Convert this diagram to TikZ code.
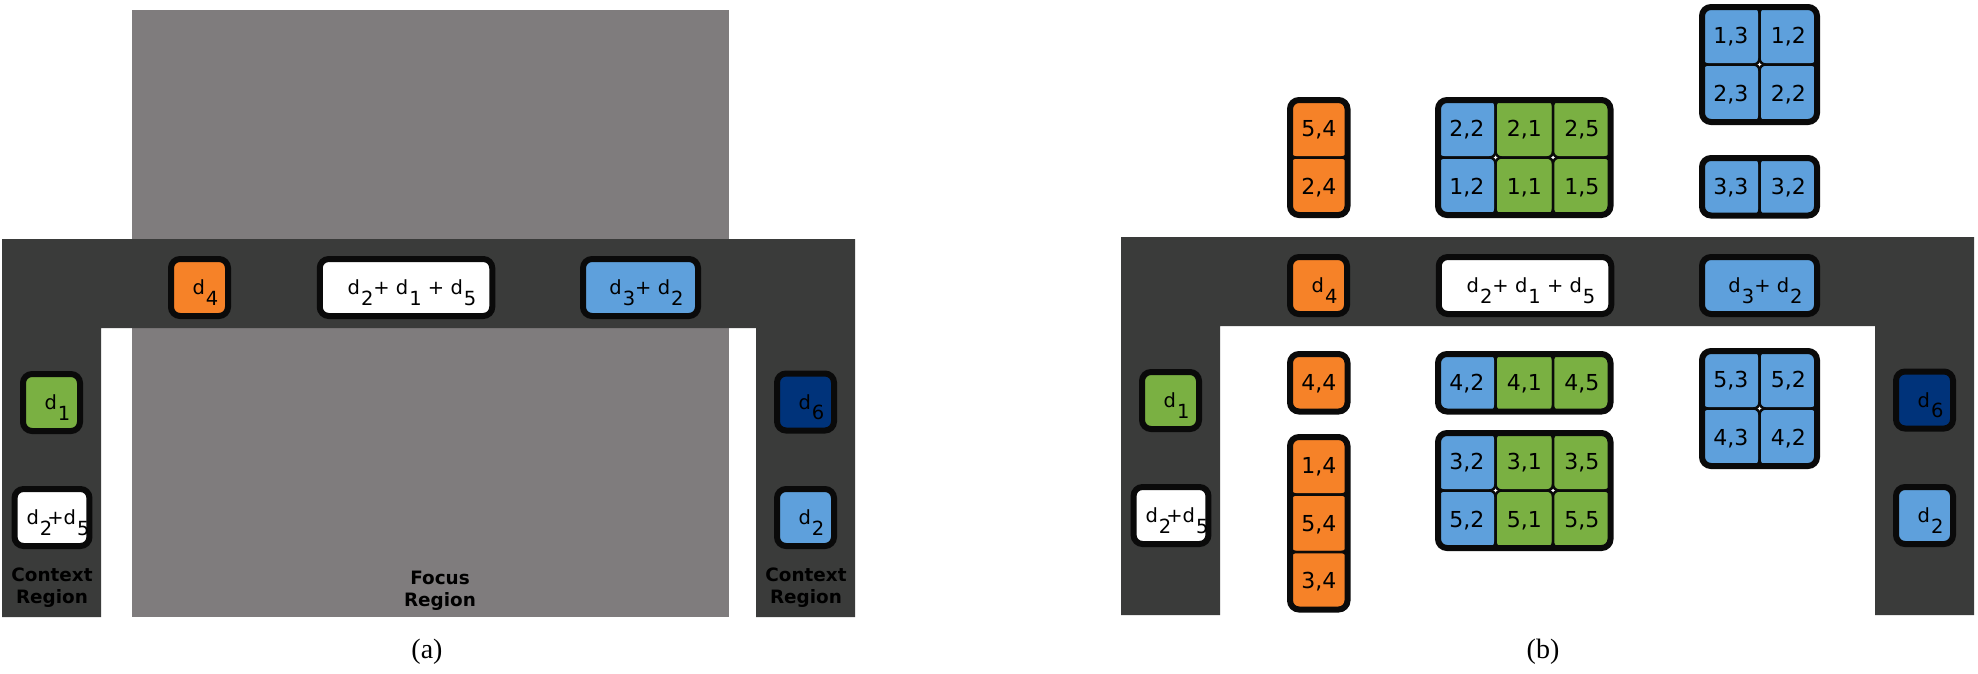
\documentclass[tikz,border=0pt]{standalone}
\usepackage{fontspec}
\setmainfont{Liberation Serif}
\newfontfamily\dejavu{DejaVu Sans}
\usepackage{tikz}

\definecolor{bandgray}{RGB}{58,59,58}
\definecolor{focusgray}{RGB}{127,124,125}
\definecolor{dorange}{RGB}{246,130,40}
\definecolor{dgreen}{RGB}{122,176,66}
\definecolor{dblue}{RGB}{94,160,220}
\definecolor{dnavy}{RGB}{0,51,122}
\definecolor{inkblack}{RGB}{10,10,10}

\newcommand{\labelfont}{\dejavu\fontsize{19.5}{22}\selectfont}
\newcommand{\cellfont}{\dejavu\fontsize{22}{24}\selectfont}
\newcommand{\regionfont}{\dejavu\bfseries\fontsize{18.4}{22}\selectfont}
\newcommand{\capfont}{\fontsize{28}{30}\selectfont}
\newcommand{\dvar}[1]{d\kern1pt\raisebox{-0.53em}{#1}}
\def\pitch{57.5}

\tikzset{
	box/.style     = {draw=inkblack, line width=6pt, rounded corners=9pt,
		minimum width=57pt, minimum height=57pt, inner sep=0pt,
		text height=14.8pt, text depth=0pt, font=\labelfont,
		execute at begin node={\hspace*{12pt}}},
	nonudge/.style = {execute at begin node={}},
	tile/.style    = {draw=inkblack, line width=2.5pt, rounded corners=6pt,
		minimum width=\pitch pt, minimum height=\pitch pt, inner sep=0pt,
		text height=16pt, text depth=0pt, font=\cellfont},
	frame/.style   = {draw=inkblack, line width=6pt, rounded corners=9pt, inner sep=0pt},
	region/.style  = {font=\regionfont, align=center, text=black},
	band/.style    = {fill=bandgray}
}

% grid of tiles: name, left, top, columns, rows, {col/row/first/second/colour}
\newcommand{\tilegrid}[6]{%
	\foreach \cx/\ry/\ta/\tb/\tf in {#6}
		\node[tile, fill=\tf] (#1-\cx-\ry) at ({#2+(\cx-0.5)*\pitch}, {#3+(\ry-0.5)*\pitch}) {\ta,\tb};
	\node[frame, minimum width=#4*\pitch, minimum height=#5*\pitch] (#1)
		at ({#2+#4*\pitch/2}, {#3+#5*\pitch/2}) {};
}

\begin{document}
\begin{tikzpicture}[x=1pt, y=-1pt]
\useasboundingbox (0,0) rectangle (1978,673);

% (a) focus region and context band
\fill[focusgray] (132,10) rectangle (729,617);
\fill[band] (2,239) -- (855,239) -- (855,617) -- (756,617) -- (756,328)
	-- (101,328) -- (101,617) -- (2,617) -- cycle;

\node[box, fill=dorange] (a-d4) at (199.5,287.5) {\dvar{4}};
\node[box, fill=white, minimum width=172.5pt] (a-sum) at (406,287.5) {\dvar{2}+ \dvar{1} + \dvar{5}};
\node[box, fill=dblue, minimum width=115pt] (a-d32) at (640.5,287.5) {\dvar{3}+ \dvar{2}};
\node[box, fill=dgreen] (a-d1) at (51.5,402.5) {\dvar{1}};
\node[box, nonudge, fill=white, minimum width=72pt] (a-d25) at (52,517.5) {\dvar{2}\kern-5pt+\dvar{5}};
\node[box, fill=dnavy] (a-d6) at (805.5,402) {\dvar{6}};
\node[box, fill=dblue] (a-d2) at (805.5,517.5) {\dvar{2}};

\node[region] (a-ctxl) at (52,588) {Context\\Region};
\node[region] (a-focus) at (440,591) {Focus\\Region};
\node[region] (a-ctxr) at (806,588) {Context\\Region};

\node[font=\capfont] (cap-a) at (427,652) {(a)};

% (b) same band, shifted
\begin{scope}[shift={(1119,-2)}]
\fill[band] (2,239) -- (855,239) -- (855,617) -- (756,617) -- (756,328)
	-- (101,328) -- (101,617) -- (2,617) -- cycle;

\node[box, fill=dorange] (b-d4) at (199.5,287.5) {\dvar{4}};
\node[box, fill=white, minimum width=172.5pt] (b-sum) at (406,287.5) {\dvar{2}+ \dvar{1} + \dvar{5}};
\node[box, fill=dblue, minimum width=115pt] (b-d32) at (640.5,287.5) {\dvar{3}+ \dvar{2}};
\node[box, fill=dgreen] (b-d1) at (51.5,402.5) {\dvar{1}};
\node[box, nonudge, fill=white, minimum width=72pt] (b-d25) at (52,517.5) {\dvar{2}\kern-5pt+\dvar{5}};
\node[box, fill=dnavy] (b-d6) at (805.5,402) {\dvar{6}};
\node[box, fill=dblue] (b-d2) at (805.5,517.5) {\dvar{2}};
\end{scope}

% (b) tile grids
\tilegrid{g54}{1290}{100}{1}{2}{1/1/5/4/dorange, 1/2/2/4/dorange}
\tilegrid{gtop}{1438}{100}{3}{2}{1/1/2/2/dblue, 2/1/2/1/dgreen, 3/1/2/5/dgreen,
	1/2/1/2/dblue, 2/2/1/1/dgreen, 3/2/1/5/dgreen}
\tilegrid{gquad}{1702}{7}{2}{2}{1/1/1/3/dblue, 2/1/1/2/dblue, 1/2/2/3/dblue, 2/2/2/2/dblue}
\tilegrid{gpair}{1702}{158}{2}{1}{1/1/3/3/dblue, 2/1/3/2/dblue}
\tilegrid{g44}{1290}{354}{1}{1}{1/1/4/4/dorange}
\tilegrid{gcol}{1290}{437}{1}{3}{1/1/1/4/dorange, 1/2/5/4/dorange, 1/3/3/4/dorange}
\tilegrid{grow}{1438}{354}{3}{1}{1/1/4/2/dblue, 2/1/4/1/dgreen, 3/1/4/5/dgreen}
\tilegrid{glow}{1438}{433}{3}{2}{1/1/3/2/dblue, 2/1/3/1/dgreen, 3/1/3/5/dgreen,
	1/2/5/2/dblue, 2/2/5/1/dgreen, 3/2/5/5/dgreen}
\tilegrid{gquad2}{1702}{351}{2}{2}{1/1/5/3/dblue, 2/1/5/2/dblue, 1/2/4/3/dblue, 2/2/4/2/dblue}

\node[font=\capfont] (cap-b) at (1543,652) {(b)};
\end{tikzpicture}
\end{document}
